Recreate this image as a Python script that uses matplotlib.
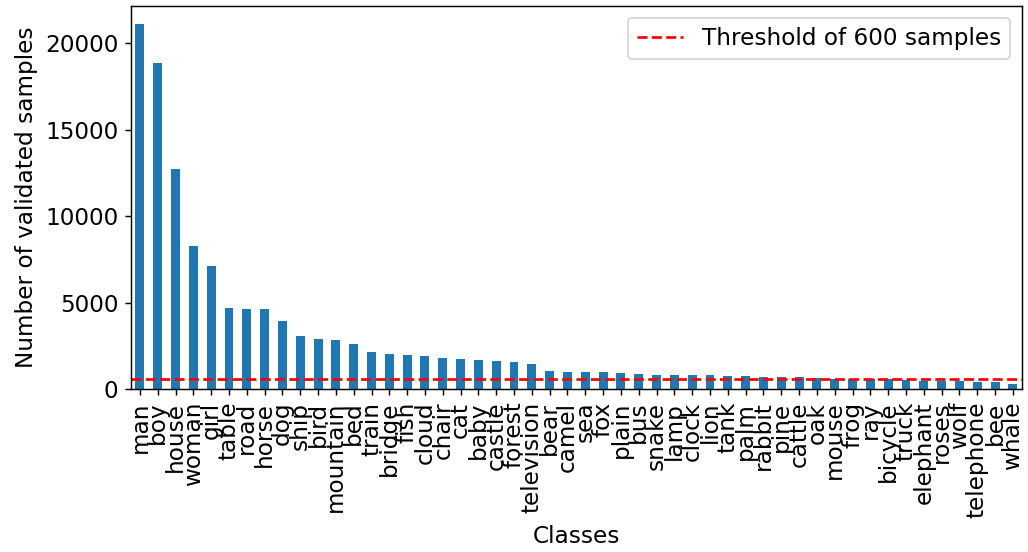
import numpy as np
import matplotlib
matplotlib.use("Agg")
import matplotlib.pyplot as plt
from matplotlib.ticker import MultipleLocator

plt.rcParams["font.size"] = 12.8

#==============================================================================
# Validated samples per class

classes = ["man", "boy", "house", "woman", "girl", "table", "road", "horse",
           "dog", "ship", "bird", "mountain", "bed", "train", "bridge", "fish",
           "cloud", "chair", "cat", "baby", "castle", "forest", "television",
           "bear", "camel", "sea", "fox", "plain", "bus", "snake", "lamp",
           "clock", "lion", "tank", "palm", "rabbit", "pine", "cattle", "oak",
           "mouse", "frog", "ray", "bicycle", "truck", "elephant", "roses",
           "wolf", "telephone", "bee", "whale"]

counts = [21100, 18850, 12700, 8250, 7100, 4700, 4650, 4600,
          3950, 3080, 2900, 2840, 2600, 2150, 2030, 1970,
          1910, 1800, 1740, 1680, 1620, 1570, 1450,
          1040, 985, 985, 985, 930, 870, 812, 812,
          812, 812, 754, 754, 696, 696, 696, 640,
          580, 580, 580, 580, 520, 465, 465,
          465, 406, 406, 290]

threshold = 600

#==============================================================================
# Plot

fig = plt.figure(figsize=(1028 / 130, 552 / 130), dpi=130)
ax = fig.add_subplot(111)
fig.subplots_adjust(left=0.1274, right=0.994, top=0.989, bottom=0.2953)

x = np.arange(len(classes))
ax.bar(x, counts, width=0.5, color="#1f77b4")
ax.set_xlim(-0.5, len(classes) - 0.5)
ax.axhline(threshold, color="r", linestyle="--", label="Threshold of %d samples" % threshold)

ax.set_xticks(x)
ax.set_xticklabels(classes, rotation=90)
ax.yaxis.set_major_locator(MultipleLocator(5000))
ax.set_xlabel("Classes")
ax.set_ylabel("Number of validated samples")
ax.legend(loc="upper right")

fig.savefig("out.png", dpi=130)
